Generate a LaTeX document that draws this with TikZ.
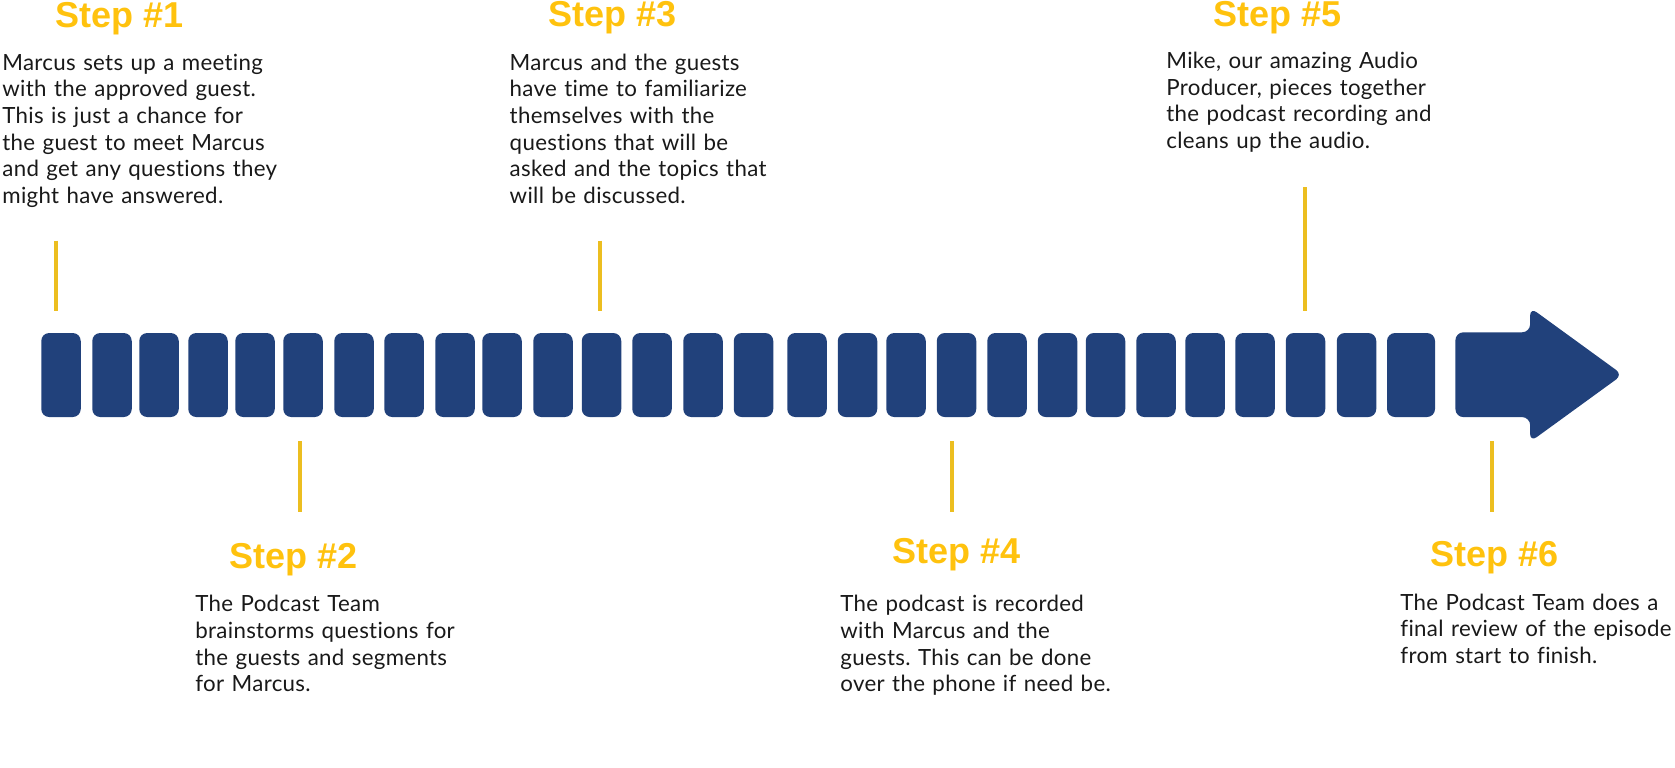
\documentclass[tikz,border=0pt]{standalone}
\usepackage{fontspec}
\setmainfont{Lato}[LetterSpace=1.4,Ligatures=NoCommon]
\newfontfamily\headfont{Liberation Sans}
\usepackage{xcolor}
\definecolor{Col1}{RGB}{33,65,123}
\definecolor{Col2}{RGB}{255,194,14}
\definecolor{Col3}{RGB}{236,190,32}
\usepackage{tikz}
\usetikzlibrary{shapes.arrows}
\frenchspacing
\tikzstyle{Block}=[rectangle,fill=Col1,rounded corners=4pt,inner sep=0pt,
minimum width=19.75pt,minimum height=42pt]
\tikzstyle{Arrow}=[single arrow,fill=Col1,rounded corners=4pt,inner sep=0pt,
text height=21pt,text depth=21pt,minimum height=83.6pt,
single arrow head extend=12.4pt,single arrow tip angle=72,anchor=west]
\tikzstyle{Tick}=[draw=Col3,line width=1.85pt]
\tikzstyle{StepST}=[text=Col2,anchor=base west,inner sep=0pt,
font=\headfont\bfseries\fontsize{18}{18}\selectfont]
\tikzstyle{TextST}=[text=black!90,anchor=base west,inner sep=0pt,align=left,
text width=145pt,font=\fontsize{11.15}{13.35}\selectfont]

\begin{document}
\begin{tikzpicture}[x=0.5pt,y=-0.5pt]
            \useasboundingbox(0,0)rectangle(1675,767);
            \node[Block](1)at(61,375){};
            \node[Block](2)at(112,375){};
            \node[Block](3)at(159,375){};
            \node[Block](4)at(208,375){};
            \node[Block](5)at(255,375){};
            \node[Block](6)at(303,375){};
            \node[Block](7)at(354,375){};
            \node[Block](8)at(404,375){};
            \node[Block](9)at(455,375){};
            \node[Block](10)at(502,375){};
            \node[Block](11)at(553,375){};
            \node[Block](12)at(601.5,375){};
            \node[Block](13)at(652,375){};
            \node[Block](14)at(703,375){};
            \node[Block](15)at(753.5,375){};
            \node[Block](16)at(807,375){};
            \node[Block](17)at(857.5,375){};
            \node[Block](18)at(906,375){};
            \node[Block](19)at(956.5,375){};
            \node[Block](20)at(1007,375){};
            \node[Block](21)at(1057.5,375){};
            \node[Block](22)at(1105.5,375){};
            \node[Block](23)at(1156,375){};
            \node[Block](24)at(1205,375){};
            \node[Block](25)at(1255,375){};
            \node[Block](26)at(1305.5,375){};
            \node[Block](27)at(1356.5,375){};
            \node[Block,minimum width=24pt](28)at(1411,375){};
            \node[Arrow](a)at(1455,374.7){};
            %
            \coordinate(t1)at(56,240.7);\coordinate(b1)at(56,310.7);
            \coordinate(t2)at(300.3,441);\coordinate(b2)at(300.3,512);
            \coordinate(t3)at(600,240.7);\coordinate(b3)at(600,310.7);
            \coordinate(t4)at(952.3,441);\coordinate(b4)at(952.3,512);
            \coordinate(t5)at(1305,187.3);\coordinate(b5)at(1305,310.7);
            \coordinate(t6)at(1492.3,441);\coordinate(b6)at(1492.3,512);
            \draw[Tick](t1)--(b1);
            \draw[Tick](t2)--(b2);
            \draw[Tick](t3)--(b3);
            \draw[Tick](t4)--(b4);
            \draw[Tick](t5)--(b5);
            \draw[Tick](t6)--(b6);
            %
            \node[StepST](s1)at(55,27){Step \#1};
            \node[StepST](s2)at(229,568.3){Step \#2};
            \node[StepST](s3)at(548.3,26.7){Step \#3};
            \node[StepST](s4)at(891.7,563.3){Step \#4};
            \node[StepST](s5)at(1212.7,26.7){Step \#5};
            \node[StepST](s6)at(1430,566.7){Step \#6};
            \node[TextST](x1)at(2,70)
                {Marcus sets up a meeting\\with the approved guest.\\
                This is just a chance for\\the guest to meet Marcus\\
                and get any questions they\\might have answered.};
            \node[TextST](x2)at(195,611.7)
                {The Podcast Team\\brainstorms questions for\\
                the guests and segments\\for Marcus.};
            \node[TextST](x3)at(509.3,70)
                {Marcus and the guests\\have time to familiarize\\
                themselves with the\\questions that will be\\
                asked and the topics that\\will be discussed.};
            \node[TextST](x4)at(840,611.7)
                {The podcast is recorded\\with Marcus and the\\
                guests. This can be done\\over the phone if need be.};
            \node[TextST](x5)at(1166,68.3)
                {Mike, our amazing Audio\\Producer, pieces together\\
                the podcast recording and\\cleans up the audio.};
            \node[TextST](x6)at(1400,610)
                {The Podcast Team does a\\final review of the episode\\
                from start to finish.};
        \end{tikzpicture}
\end{document}
